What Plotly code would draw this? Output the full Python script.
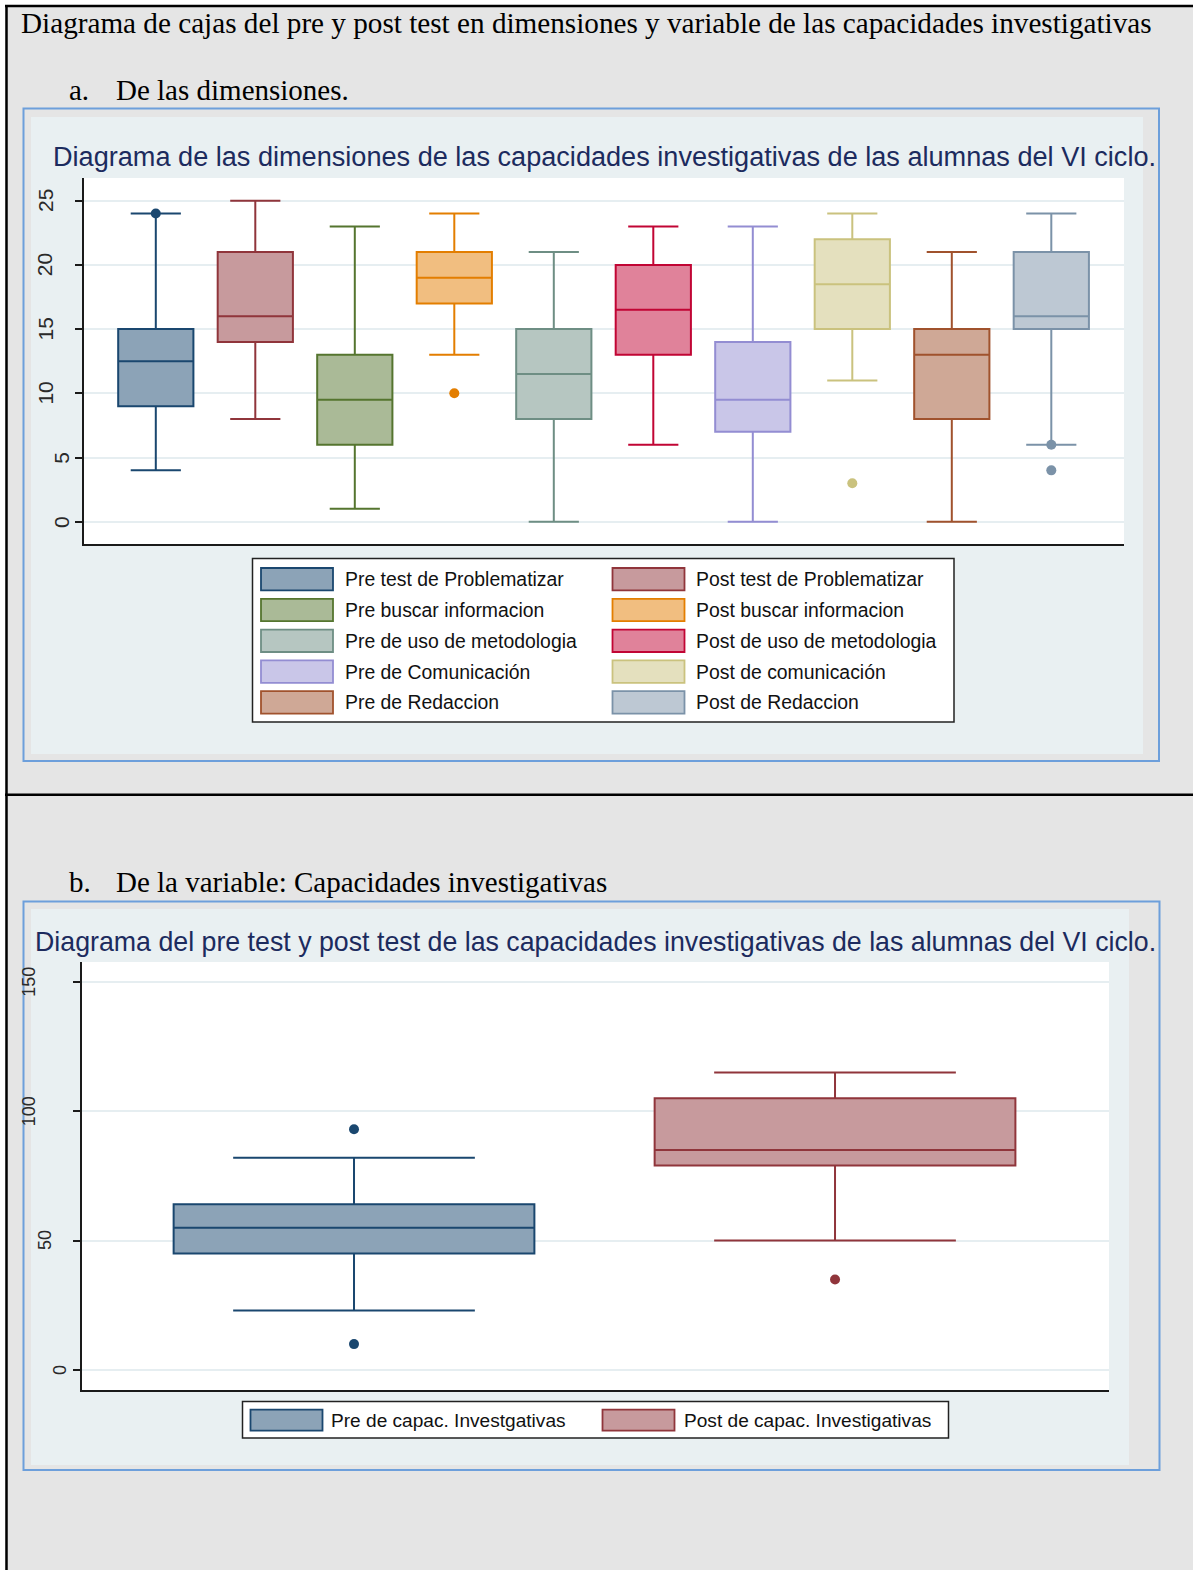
import plotly.graph_objects as go

W, H = 1193, 1570

# ---------------- data: dimensiones (pre / post) ----------------
dim_names = [
    "Pre test de Problematizar", "Post test de Problematizar",
    "Pre buscar informacion", "Post buscar informacion",
    "Pre de uso de metodologia", "Post de uso de metodologia",
    "Pre de Comunicación", "Post de comunicación",
    "Pre de Redaccion", "Post de Redaccion",
]
dim_lower = [4, 8, 1, 13, 0, 6, 0, 11, 0, 6]
dim_q1 = [9, 14, 6, 17, 8, 13, 7, 15, 8, 15]
dim_median = [12.5, 16, 9.5, 19, 11.5, 16.5, 9.5, 18.5, 13, 16]
dim_q3 = [15, 21, 13, 21, 15, 20, 14, 22, 15, 21]
dim_upper = [24, 25, 23, 24, 21, 23, 23, 24, 21, 24]
dim_outliers = [[24], [], [], [10], [], [], [], [3], [], [6, 4]]
dim_ticks = [0, 5, 10, 15, 20, 25]

# ---------------- data: variable (pre / post) ----------------
var_names = ["Pre de capac. Investgativas", "Post de capac. Investigativas"]
var_lower = [23, 50]
var_q1 = [45, 79]
var_median = [55, 85]
var_q3 = [64, 105]
var_upper = [82, 115]
var_outliers = [[93, 10], [35]]
var_ticks = [0, 50, 100, 150]

# ---------------- styles (Stata s2color palette) ----------------
dim_line = ["#1a476f", "#90353b", "#55752f", "#e37e00", "#6e8e84",
            "#c10534", "#938dd2", "#cac27e", "#a0522d", "#7b92a8"]
dim_fill = ["#8ca3b7", "#c79a9d", "#aaba97", "#f1be80", "#b6c6c1",
            "#e0829a", "#c9c6e8", "#e4e0be", "#cfa896", "#bdc8d3"]
var_line = ["#1a476f", "#90353b"]
var_fill = ["#8ca3b7", "#c79a9d"]

PAGE = "#e5e5e5"
PANEL = "#e9f0f2"
FRAME = "#6d9fdb"
GRID = "#e6eef1"
AXIS = "#1a1a1a"
TITLE = "#1c2b5e"
SANS = "Liberation Sans, Arial, sans-serif"
SERIF = "Liberation Serif, Times New Roman, serif"


def px(x):
    return x / W


def py(y):
    return 1 - y / H


fig = go.Figure()

# ---------------- box traces ----------------
def add_boxes(names, lo, q1, med, q3, hi, outl, lines, fills, xa, ya, bw, ww, msize):
    for i, name in enumerate(names):
        fig.add_trace(go.Box(
            x=[i], q1=[q1[i]], median=[med[i]], q3=[q3[i]],
            lowerfence=[lo[i]], upperfence=[hi[i]],
            name=name, width=bw, whiskerwidth=ww,
            fillcolor=fills[i], line=dict(color=lines[i], width=2),
            boxpoints=False, xaxis=xa, yaxis=ya, showlegend=False,
            hoverinfo="skip",
        ))
        if outl[i]:
            fig.add_trace(go.Scatter(
                x=[i] * len(outl[i]), y=outl[i], mode="markers",
                marker=dict(size=msize, color=lines[i]),
                xaxis=xa, yaxis=ya, showlegend=False, hoverinfo="skip",
            ))


add_boxes(dim_names, dim_lower, dim_q1, dim_median, dim_q3, dim_upper,
          dim_outliers, dim_line, dim_fill, "x", "y", 0.756, 0.667, 10)
add_boxes(var_names, var_lower, var_q1, var_median, var_q3, var_upper,
          var_outliers, var_line, var_fill, "x2", "y2", 0.75, 0.67, 10)

# ---------------- page, frames and panels ----------------
shapes = []


def rect(x0, y0, x1, y1, fill=None, line=None, lw=0, layer="below"):
    shapes.append(dict(
        type="rect", xref="paper", yref="paper",
        x0=px(x0), x1=px(x1), y0=py(y1), y1=py(y0),
        fillcolor=fill if fill else "rgba(0,0,0,0)",
        line=dict(color=line if line else "rgba(0,0,0,0)", width=lw),
        layer=layer,
    ))


def hline(x0, x1, y, color, lw):
    shapes.append(dict(type="line", xref="paper", yref="paper",
                       x0=px(x0), x1=px(x1), y0=py(y), y1=py(y),
                       line=dict(color=color, width=lw), layer="below"))


def vline(x, y0, y1, color, lw):
    shapes.append(dict(type="line", xref="paper", yref="paper",
                       x0=px(x), x1=px(x), y0=py(y0), y1=py(y1),
                       line=dict(color=color, width=lw), layer="below"))


rect(5, 5, W, H, fill=PAGE)
hline(5, W, 6, "#000000", 2.5)
vline(6.5, 5, H, "#000000", 2.5)
hline(5, W, 794.7, "#000000", 2.5)

# chart a container
rect(31, 117, 1143, 754, fill=PANEL)
rect(23.5, 108.5, 1159, 761, line=FRAME, lw=2)
# chart b container
rect(31, 909, 1129, 1465, fill=PANEL)
rect(23.5, 901.5, 1159.5, 1470, line=FRAME, lw=2)

# white plot regions
for xr, yr in (("x", "y"), ("x2", "y2")):
    shapes.append(dict(type="rect", xref=f"{xr} domain", yref=f"{yr} domain",
                       x0=0, x1=1, y0=0, y1=1, fillcolor="white",
                       line=dict(width=0), layer="below"))

# ---------------- text helpers ----------------
annotations = []


def text(x, y, s, size, color, family, xanchor="left", angle=0, yref="paper"):
    annotations.append(dict(
        x=px(x), y=y if yref != "paper" else py(y), xref="paper", yref=yref,
        text=s, showarrow=False, xanchor=xanchor, yanchor="middle",
        textangle=angle, font=dict(size=size, color=color, family=family),
        borderpad=0,
    ))


# legend of chart a: Pre entries left column, Post entries right column
rect(252.5, 558.5, 954, 722, fill="white", line="#222222", lw=1.5)
col_swatch_x = [261, 612.5]
col_text_x = [344, 694.5]
for i, name in enumerate(dim_names):
    row, col = divmod(i, 2)
    cy = 579.2 + row * 30.8
    rect(col_swatch_x[col], cy - 11.2, col_swatch_x[col] + 72, cy + 11.2,
         fill=dim_fill[i], line=dim_line[i], lw=1.8)
    text(col_text_x[col], cy, name, 19.4, "#111111", SANS)

# legend of chart b
rect(242.5, 1401.5, 948.5, 1438, fill="white", line="#222222", lw=1.5)
sw2 = [250.5, 602.5]
tx2 = [330, 683]
for i, name in enumerate(var_names):
    cy = 1420.2
    rect(sw2[i], cy - 10.5, sw2[i] + 72, cy + 10.5,
         fill=var_fill[i], line=var_line[i], lw=1.8)
    text(tx2[i], cy, name, 19.1, "#111111", SANS)

# ---------------- document text ----------------
text(19.5, 22.5, "Diagrama de cajas del pre y post test en dimensiones y variable de las capacidades investigativas",
     29.2, "#000000", SERIF)
text(67.5, 89.6, "a.", 29, "#000000", SERIF)
text(115, 89.6, "De las dimensiones.", 29, "#000000", SERIF)
text(67.5, 881.8, "b.", 29, "#000000", SERIF)
text(115, 881.8, "De la variable: Capacidades investigativas", 29, "#000000", SERIF)

# ---------------- chart titles ----------------
text(51.5, 157, "Diagrama de las dimensiones de las capacidades investigativas de las alumnas del VI ciclo.",
     27.12, TITLE, SANS)
text(34, 942, "Diagrama del pre test y post test de las capacidades investigativas de las alumnas del VI ciclo.",
     26.76, TITLE, SANS)

# ---------------- rotated y tick labels ----------------
for v in dim_ticks:
    s = str(v)
    text(77.3 - 16 * len(s), v, s, 21, "#2a2a2a", SANS, xanchor="center", angle=-90, yref="y")
for v in var_ticks:
    s = str(v)
    text(75.5 - 15.5 * len(s), v, s, 18, "#2a2a2a", SANS, xanchor="center", angle=-90, yref="y2")

axis_common = dict(showline=True, linecolor=AXIS, linewidth=1.5, zeroline=False)
yaxis_common = dict(
    showgrid=True, gridcolor=GRID, gridwidth=2, ticks="outside", ticklen=7,
    tickwidth=1.5, tickcolor=AXIS, showticklabels=False, **axis_common,
)
xaxis_common = dict(showgrid=False, showticklabels=False, ticks="", **axis_common)

fig.update_layout(
    width=W, height=H, margin=dict(l=0, r=0, t=0, b=0),
    paper_bgcolor="white", plot_bgcolor="white", showlegend=False,
    xaxis=dict(domain=[px(84), px(1124)], range=[-0.7216, 9.7307], anchor="y", **xaxis_common),
    yaxis=dict(domain=[py(544), py(178)], range=[-1.737, 26.77], anchor="x",
               tickvals=dim_ticks, **yaxis_common),
    xaxis2=dict(domain=[px(82), px(1109)], range=[-0.5655, 1.5696], anchor="y2", **xaxis_common),
    yaxis2=dict(domain=[py(1390), py(962)], range=[-7.73, 157.65], anchor="x2",
                tickvals=var_ticks, **yaxis_common),
    shapes=shapes, annotations=annotations,
)

fig.write_html("out.html")
